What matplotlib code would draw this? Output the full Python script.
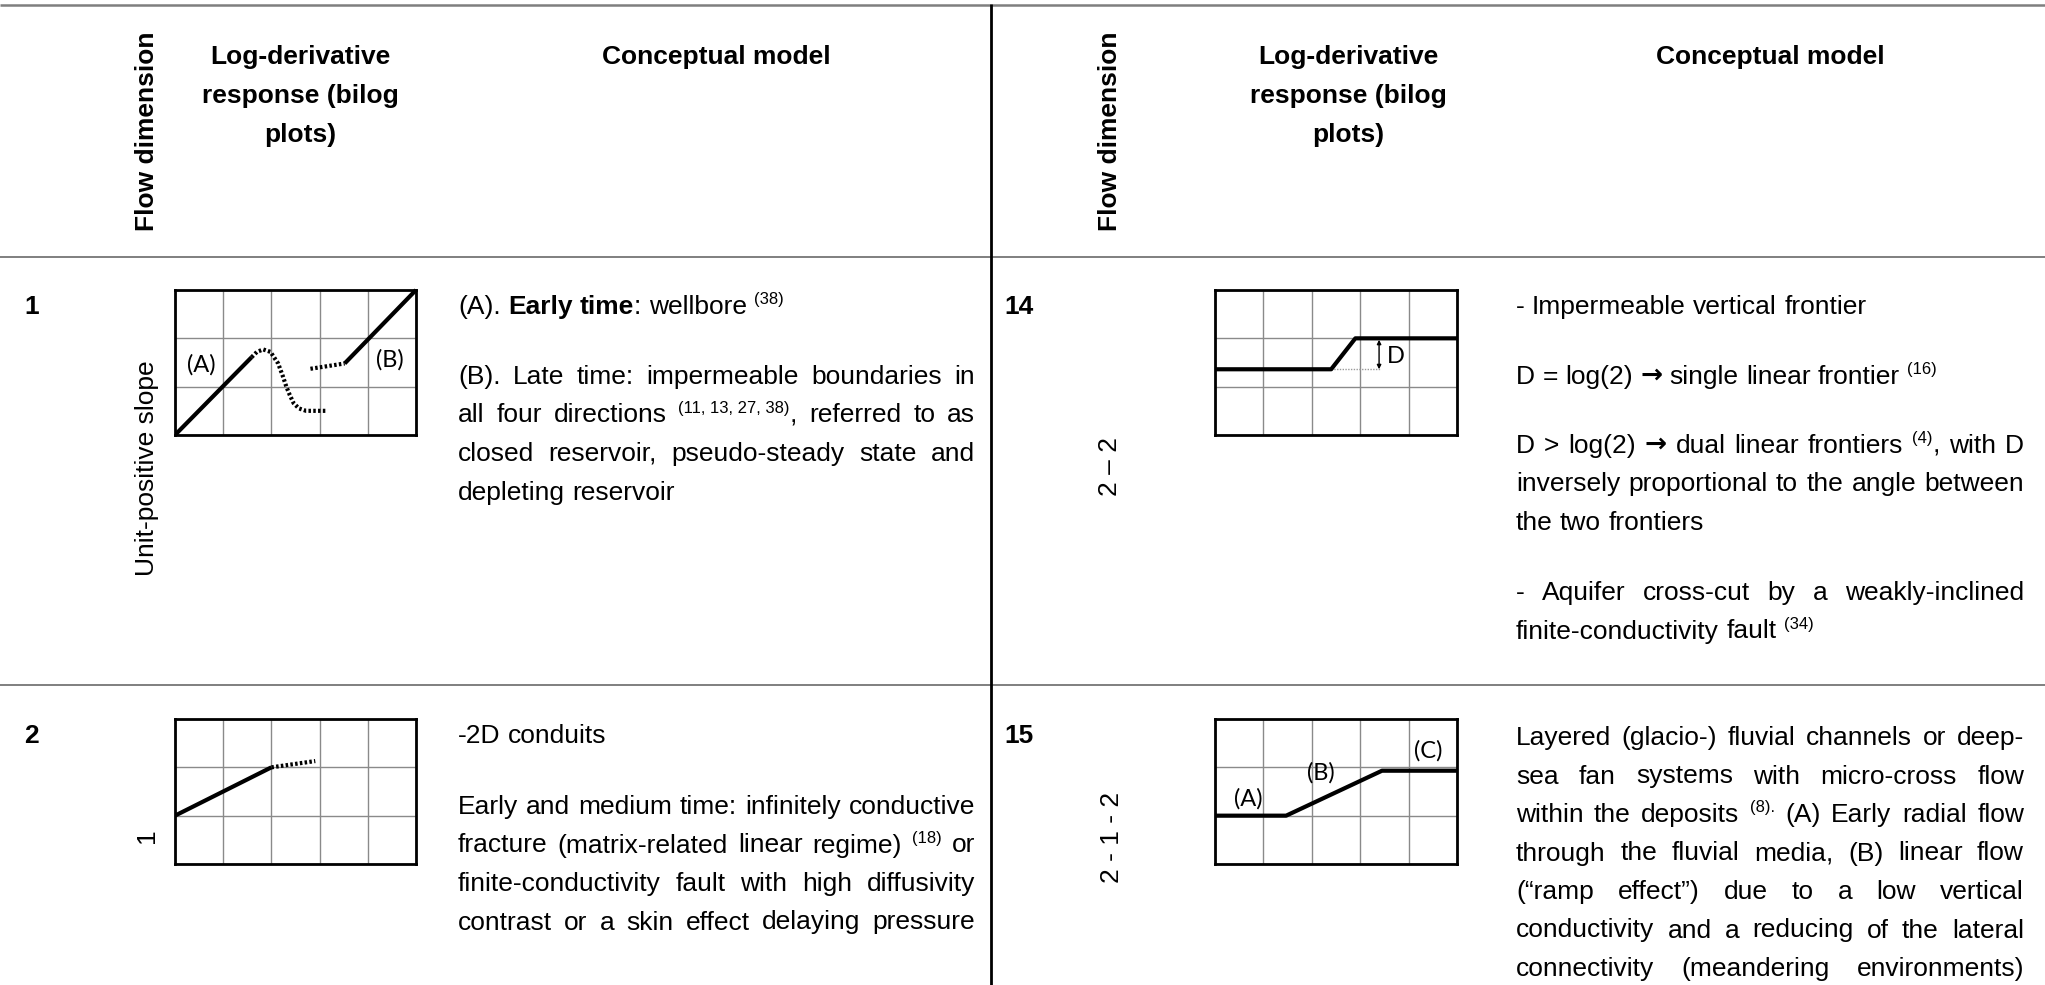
import re
import matplotlib
matplotlib.use("Agg")
import matplotlib.pyplot as plt
from matplotlib.lines import Line2D

# ---------------- data ----------------
header_flow = "Flow dimension"
header_logder = ["Log-derivative", "response (bilog", "plots)"]
header_model = "Conceptual model"

row_ids = ["1", "2", "14", "15"]
row_dims = ["Unit-positive slope", "1", "2 \u2013 2", "2 - 1 - 2"]

# row 1 curve (grid units: 5 x 3 cells)
r1_a_x = [0, 1.59]
r1_a_y = [0, 1.61]
r1_hump_x = [1.59, 1.70, 1.83, 1.98, 2.14, 2.24, 2.31, 2.38, 2.46, 2.57, 2.72, 3.14]
r1_hump_y = [1.61, 1.72, 1.77, 1.72, 1.48, 1.21, 1.00, 0.83, 0.66, 0.55, 0.50, 0.50]
r1_mid_x = [2.81, 3.52]
r1_mid_y = [1.37, 1.48]
r1_b_x = [3.52, 5.0]
r1_b_y = [1.48, 3.0]
r1_labels = ["(A)", "(B)"]
r1_label_x = [0.55, 4.45]
r1_label_y = [1.46, 1.55]

# row 2 curve
r2_solid_x = [0, 2.0]
r2_solid_y = [1.0, 2.0]
r2_dot_x = [2.0, 2.91]
r2_dot_y = [2.0, 2.13]

# row 14 curve
r14_x = [0, 2.40, 2.90, 5.0]
r14_y = [1.36, 1.36, 2.0, 2.0]
r14_ref_x = [2.40, 3.41]
r14_ref_y = [1.36, 1.36]
r14_arrow_x = 3.39
r14_D_pos = (3.74, 1.62)

# row 15 curve
r15_x = [0, 1.47, 3.45, 5.0]
r15_y = [1.0, 1.0, 1.93, 1.93]
r15_labels = ["(A)", "(B)", "(C)"]
r15_label_x = [0.68, 2.19, 4.41]
r15_label_y = [1.34, 1.88, 2.34]

# text (markup: <b>bold</b>, <s>superscript</s>, <a>arrow</a>); flag = justified
text_r1 = [
    ("(A). <b>Early time</b>: wellbore <s>(38)</s>", False),
    ("(B). Late time: impermeable boundaries in", True),
    ("all four directions <s>(11,\u00a013,\u00a027,\u00a038)</s>, referred to as", True),
    ("closed reservoir, pseudo-steady state and", True),
    ("depleting reservoir", False),
]
text_r2 = [
    ("-2D conduits", False),
    ("Early and medium time: infinitely conductive", True),
    ("fracture (matrix-related linear regime) <s>(18)</s> or", True),
    ("finite-conductivity fault with high diffusivity", True),
    ("contrast or a skin effect delaying pressure", True),
]
text_r14 = [
    ("- Impermeable vertical frontier", False),
    ("D = log(2) <a>\u2192</a> single linear frontier <s>(16)</s>", False),
    ("D > log(2) <a>\u2192</a> dual linear frontiers <s>(4)</s>, with D", True),
    ("inversely proportional to the angle between", True),
    ("the two frontiers", False),
    ("- Aquifer cross-cut by a weakly-inclined", True),
    ("finite-conductivity fault <s>(34)</s>", False),
]
text_r15 = [
    ("Layered (glacio-) fluvial channels or deep-", True),
    ("sea fan systems with micro-cross flow", True),
    ("within the deposits <s>(8).</s> (A) Early radial flow", True),
    ("through the fluvial media, (B) linear flow", True),
    ("(\u201cramp effect\u201d) due to a low vertical", True),
    ("conductivity and a reducing of the lateral", True),
    ("connectivity (meandering environments)", True),
]
y_r1 = [306, 376, 414.5, 453, 491.5]
y_r2 = [735, 806, 844.5, 883, 921.5]
y_r14 = [306, 376, 445, 483.5, 522, 592, 630.5]
y_r15 = [737, 775.5, 814, 852.5, 891, 929.5, 968]

# ---------------- layout ----------------
W, H = 2045, 985
FS = 19
SUP = 12
FAM = ["Liberation Sans", "DejaVu Sans"]
AFAM = ["DejaVu Sans"]
LFAM = ["Lato", "DejaVu Sans"]

fig = plt.figure(figsize=(W / 100, H / 100), dpi=100)
fig.patch.set_facecolor("white")
renderer = fig.canvas.get_renderer()


def fx(x):
    return x / W


def fy(y):
    return 1 - y / H


def line(xs, ys, color, lw):
    fig.add_artist(Line2D([fx(v) for v in xs], [fy(v) for v in ys],
                          color=color, lw=lw, transform=fig.transFigure,
                          solid_capstyle="butt"))


_cache = {}


def ink(s, size, weight, fam):
    key = (s, size, weight, tuple(fam))
    if key not in _cache:
        t = fig.text(0, 0, s, fontsize=size, fontweight=weight, family=fam)
        _cache[key] = t.get_window_extent(renderer).width
        t.remove()
    return _cache[key]


def adv(s, size, weight, fam):
    return ink("|" + s + "|", size, weight, fam) - ink("||", size, weight, fam)


def style(kind):
    size = SUP if kind == "s" else FS
    weight = "bold" if kind in ("b", "a") else "normal"
    fam = AFAM if kind == "a" else FAM
    return size, weight, fam


def parse(markup):
    runs = []
    for m in re.finditer(r"<(b|s|a)>(.*?)</\1>|([^<]+)", markup):
        if m.group(3) is not None:
            runs.append((m.group(3), "n"))
        else:
            runs.append((m.group(2), m.group(1)))
    words = [[]]
    for txt, kind in runs:
        parts = txt.split(" ")
        for i, p in enumerate(parts):
            if i > 0:
                words.append([])
            if p:
                words[-1].append((p, kind))
    return [w for w in words if w]


def draw_line(markup, x0, x1, yc, justify):
    words = parse(markup)
    widths = [sum(adv(t, *style(k)) for t, k in w) for w in words]
    sp = adv(" ", FS, "normal", FAM)
    if justify and len(words) > 1:
        gap = (x1 - x0 - sum(widths)) / (len(words) - 1)
    else:
        gap = sp
    yb = yc + 8
    x = x0
    for w, ww in zip(words, widths):
        xx = x
        for t, k in w:
            size, weight, fam = style(k)
            yy = yb - (10 if k == "s" else 0) - (1 if k == "a" else 0)
            fig.text(fx(xx), fy(yy), t, fontsize=size, fontweight=weight,
                     family=fam, ha="left", va="baseline")
            xx += adv(t, size, weight, fam)
        x += ww + gap


def draw_par(lines, ys, x0, x1):
    for (mk, just), y in zip(lines, ys):
        draw_line(mk, x0, x1, y, just)


# table rules
line([0, W], [5, 5], "#7f7f7f", 1.8)
line([0, W], [257, 257], "#7f7f7f", 1.4)
line([0, W], [685, 685], "#7f7f7f", 1.4)
line([991, 991], [4, H], "black", 2.0)

# headers
for xf, xl, xm in [(147, 300, 716), (1110, 1348, 1770)]:
    fig.text(fx(xf), fy(131), header_flow, rotation=90, fontsize=FS,
             fontweight="bold", family=FAM, ha="center", va="center")
    for i, s in enumerate(header_logder):
        fig.text(fx(xl), fy(56 + 39 * i + 8), s, fontsize=FS, fontweight="bold",
                 family=FAM, ha="center", va="baseline")
    fig.text(fx(xm), fy(56 + 8), header_model, fontsize=FS, fontweight="bold",
             family=FAM, ha="center", va="baseline")

# row ids and flow-dimension labels
id_pos = [(24, 306), (24, 735), (1004, 306), (1004, 735)]
dim_pos = [(147, 468), (147, 836), (1110, 466), (1112, 837)]
for s, (x, y) in zip(row_ids, id_pos):
    fig.text(fx(x), fy(y + 8), s, fontsize=FS, fontweight="bold", family=FAM,
             ha="left", va="baseline")
for s, (x, y) in zip(row_dims, dim_pos):
    fig.text(fx(x), fy(y), s, rotation=90, fontsize=FS, family=FAM,
             ha="center", va="center")


# charts
def chart(x0, y0, w=241, h=145):
    ax = fig.add_axes([fx(x0), fy(y0 + h), w / W, h / H])
    ax.set_xlim(0, 5)
    ax.set_ylim(0, 3)
    ax.set_xticks(range(6))
    ax.set_yticks(range(4))
    ax.grid(True, color="#8a8a8a", lw=1.0)
    ax.set_axisbelow(True)
    ax.tick_params(length=0, labelbottom=False, labelleft=False)
    for sp in ax.spines.values():
        sp.set_linewidth(2.0)
        sp.set_color("black")
    return ax


CW = 3.0
DOT = (0, (0.6, 0.55))
LBL = 17

ax1 = chart(175, 290)
ax1.plot(r1_a_x, r1_a_y, color="black", lw=CW, solid_capstyle="butt")
ax1.plot(r1_hump_x, r1_hump_y, color="black", lw=CW, ls=DOT)
ax1.plot(r1_mid_x, r1_mid_y, color="black", lw=CW, ls=DOT)
ax1.plot(r1_b_x, r1_b_y, color="black", lw=CW, solid_capstyle="butt", clip_on=False)
for s, x, y in zip(r1_labels, r1_label_x, r1_label_y):
    ax1.text(x, y, s, fontsize=LBL, family=LFAM, ha="center", va="center")

ax2 = chart(175, 719)
ax2.plot(r2_solid_x, r2_solid_y, color="black", lw=CW, solid_capstyle="butt")
ax2.plot(r2_dot_x, r2_dot_y, color="black", lw=CW, ls=DOT)

ax14 = chart(1215, 290, w=242)
ax14.plot(r14_ref_x, r14_ref_y, color="#9a9a9a", lw=1.0, ls=(0, (1, 1)))
ax14.plot(r14_x, r14_y, color="black", lw=CW, solid_capstyle="butt")
ax14.annotate("", xy=(r14_arrow_x, r14_y[-1] - 0.03), xytext=(r14_arrow_x, r14_y[0]),
              arrowprops=dict(arrowstyle="<|-|>", lw=1.0, color="black",
                              mutation_scale=6, shrinkA=0, shrinkB=0))
ax14.text(r14_D_pos[0], r14_D_pos[1], "D", fontsize=LBL, family=LFAM,
          ha="center", va="center")

ax15 = chart(1215, 719, w=242)
ax15.plot(r15_x, r15_y, color="black", lw=CW, solid_capstyle="butt")
for s, x, y in zip(r15_labels, r15_label_x, r15_label_y):
    ax15.text(x, y, s, fontsize=LBL, family=LFAM, ha="center", va="center")

# body text
draw_par(text_r1, y_r1, 458, 975)
draw_par(text_r2, y_r2, 458, 975)
draw_par(text_r14, y_r14, 1516, 2024)
draw_par(text_r15, y_r15, 1516, 2024)

fig.savefig("out.png", dpi=100, facecolor="white")
